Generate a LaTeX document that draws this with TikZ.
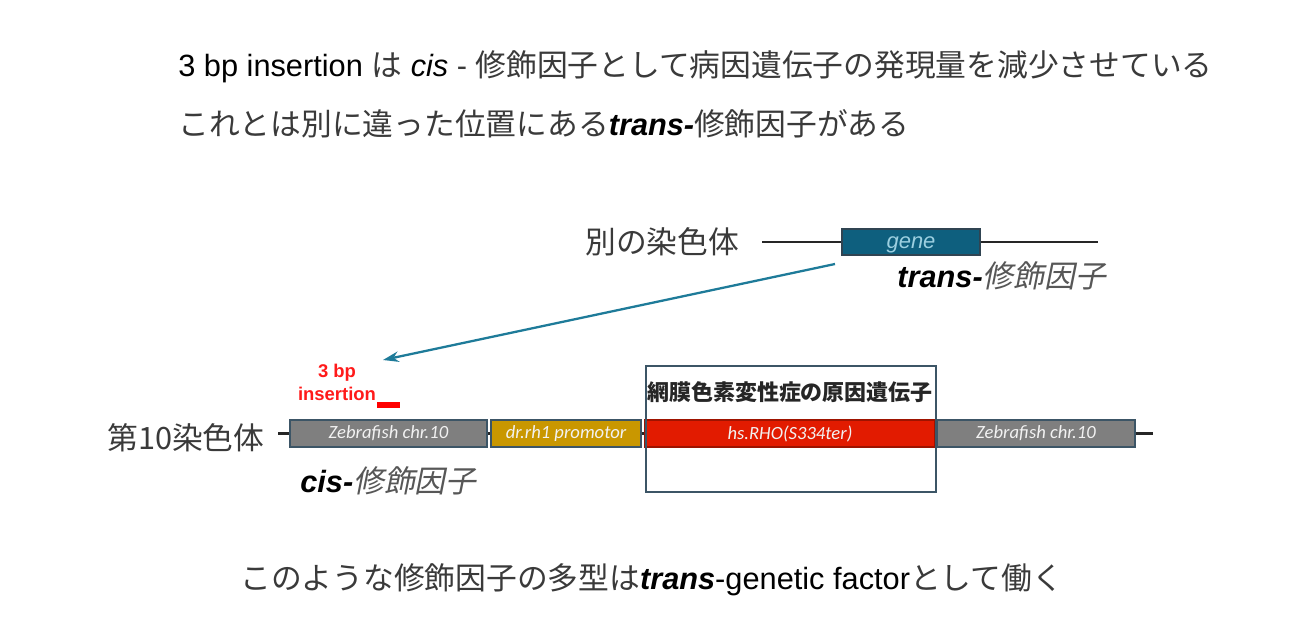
\documentclass[tikz,border=0pt]{standalone}
\usepackage{fontspec}
\setmainfont{Liberation Sans}
\newfontfamily\jp{Noto Sans CJK JP}
\newfontfamily\jpit[FakeSlant=0.2]{Noto Sans CJK JP}
\newfontfamily\lbl{Carlito}
\usetikzlibrary{arrows.meta}
\definecolor{geneblue}{HTML}{0E5F7E}
\definecolor{genetext}{HTML}{9CCFE0}
\definecolor{arrowcol}{HTML}{1E7B99}
\definecolor{chrgray}{HTML}{7F7F7F}
\definecolor{promcol}{HTML}{C99700}
\definecolor{rhored}{HTML}{E21B00}
\definecolor{bordercol}{HTML}{3C5566}
\definecolor{txtgray}{HTML}{3A3A3A}
\definecolor{redtxt}{HTML}{FF1A1A}
\def\u{0.02cm}
\tikzset{
  bigtext/.style={font=\fontsize{17.5}{20}\selectfont, text=txtgray, inner sep=0pt},
  seg/.style={draw=bordercol, line width=1.2pt, inner sep=0pt, minimum height=27*\u,
     font=\lbl\itshape\fontsize{10.6}{12}\selectfont, text=white!90!gray},
  chrline/.style={line width=1.4pt, black!85},
}
\begin{document}
\begin{tikzpicture}[x=\u,y=-\u]
\useasboundingbox (0,0) rectangle (1300,628);
% title lines
\node[bigtext, anchor=base west] (t1) at (178,77)
  {\textcolor{black}{3 bp insertion} {\jp は}\ \textcolor{black}{\itshape cis}\ - {\jp 修飾因子として病因遺伝子の発現量を減少させている}};
\node[bigtext, anchor=base west] (t2) at (178,136)
  {{\jp これとは別に違った位置にある}\textcolor{black}{\bfseries\itshape trans-}{\jp 修飾因子がある}};
% other chromosome
\node[bigtext, anchor=base west] (other) at (585,253) {\jp 別の染色体};
\node[fill=geneblue, draw=bordercol!80!black, line width=1pt, minimum width=138*\u, minimum height=26*\u, inner sep=0pt] (gene) at (911,242) {};
\node[anchor=base, inner sep=0pt, font=\itshape\fontsize{12.5}{14}\selectfont, text=genetext] (genelbl) at (911,248) {gene};
\coordinate (ol) at (762,242);
\coordinate (or) at (1098,242);
\draw[line width=1pt, black!85] (ol) -- (gene.west);
\draw[line width=1pt, black!85] (gene.east) -- (or);
\node[bigtext, anchor=base west] (translbl) at (897,287)
  {\textcolor{black}{\bfseries\itshape trans-}{\jpit\color{txtgray!85} 修飾因子}};
% arrow
\coordinate (astart) at (835,264);
\coordinate (aend) at (383,360);
\draw[arrowcol, line width=1.3pt, -{Stealth[length=9pt,width=6pt]}] (astart) -- (aend);
% insertion
\node[text=redtxt, font=\bfseries\fontsize{10.5}{13}\selectfont, align=center, inner sep=0pt] (ins) at (337,382) {3 bp\\insertion};
\node[fill=red, inner sep=0pt, minimum width=23*\u, minimum height=6*\u] (insbar) at (388.5,405) {};
% chromosome 10
\node[bigtext, anchor=base west] (chr10) at (107,449) {\jp 第10染色体};
\node[seg, fill=chrgray, minimum width=197*\u] (s1) at (388.5,433.5) {Zebrafish chr.10};
\node[seg, fill=promcol, minimum width=150*\u] (s2) at (566,433.5) {dr.rh1 promotor};
\node[seg, fill=rhored, draw=rhored!70!black, minimum width=290*\u] (s3) at (790,433.5) {hs.RHO(S334ter)};
\node[seg, fill=chrgray, minimum width=198*\u] (s4) at (1036,433.5) {Zebrafish chr.10};
\coordinate (cl) at (278,433.5);
\coordinate (cr) at (1153,433.5);
\draw[chrline] (cl) -- (s1.west);
\draw[chrline] (s1.east) -- (s2.west);
\draw[chrline] (s2.east) -- (s3.west);
\draw[chrline] (s3.east) -- (s4.west);
\draw[chrline] (s4.east) -- (cr);
% disease gene box
\node[draw=bordercol, line width=1.3pt, minimum width=290*\u, minimum height=126*\u, inner sep=0pt] (dbox) at (791,429) {};
\node[font=\jp\bfseries\fontsize{12.5}{15}\selectfont, text=black!85, inner sep=0pt] (dlbl) at (790,392) {網膜色素変性症の原因遺伝子};
\node[bigtext, anchor=base west] (cislbl) at (300,492)
  {\textcolor{black}{\bfseries\itshape cis-}{\jpit\color{txtgray!85} 修飾因子}};
% bottom line
\node[bigtext, anchor=base west] (bottom) at (240,589)
  {{\jp このような修飾因子の多型は}\textcolor{black}{\bfseries\itshape trans}\textcolor{black}{-genetic factor}{\jp として働く}};
\end{tikzpicture}
\end{document}
